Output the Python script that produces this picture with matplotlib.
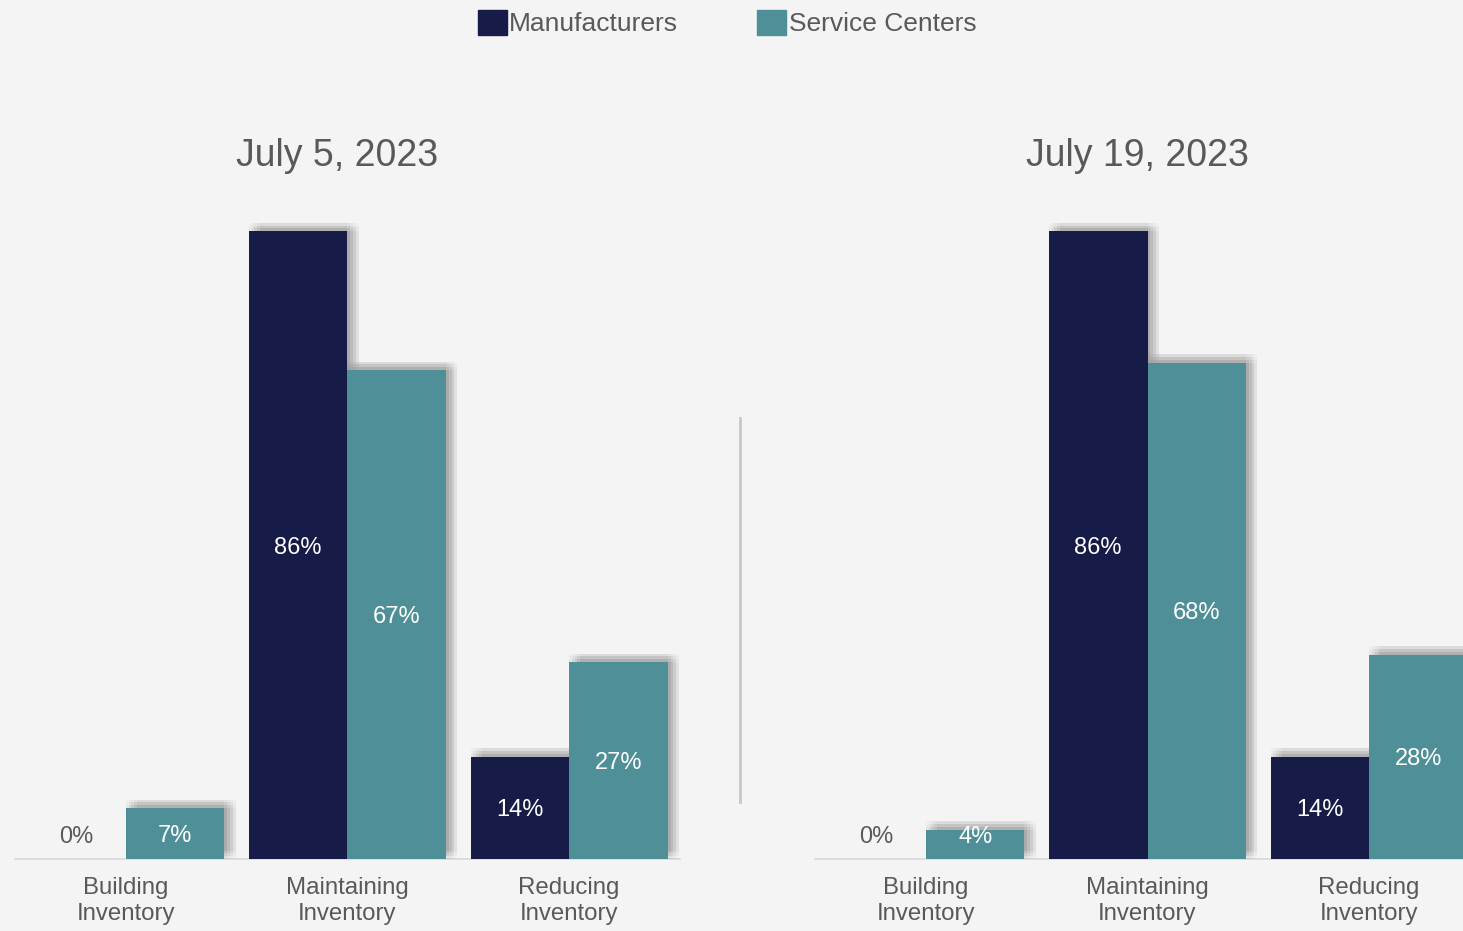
import matplotlib.pyplot as plt
import matplotlib.patheffects as pe
from matplotlib.patches import Patch
from matplotlib.lines import Line2D
import numpy as np

plt.rcParams['font.family'] = ['Liberation Sans', 'DejaVu Sans']

categories = ['Building\nInventory', 'Maintaining\nInventory', 'Reducing\nInventory']
titles = ['July 5, 2023', 'July 19, 2023']
manufacturers = [[0, 86, 14], [0, 86, 14]]
service_centers = [[7, 67, 27], [4, 68, 28]]

navy = '#161b47'
teal = '#4f8f98'
bg = '#f4f4f4'
gray = '#595959'

fig = plt.figure(figsize=(14.63, 9.31), dpi=100, facecolor=bg)

# soft shadow, up and to the right
shadow = []
for dx in range(0, 9, 2):
    for dy in range(0, 8, 2):
        shadow.append(pe.SimplePatchShadow(offset=(dx, dy), shadow_rgbFace='black', alpha=0.018))
shadow.append(pe.Normal())

W, H = 1463, 931
axes_px = [(15, 129, 665, 730), (815, 129, 665, 730)]

for i in range(2):
    x0, y0, w, h = axes_px[i]
    ax = fig.add_axes([x0 / W, (H - y0 - h) / H, w / W, h / H])
    ax.set_facecolor('none')
    x = np.arange(len(categories))
    bw = 0.445
    b1 = ax.bar(x - bw / 2, manufacturers[i], bw, color=navy, zorder=3)
    b2 = ax.bar(x + bw / 2, service_centers[i], bw, color=teal, zorder=3)
    for bars in (b1, b2):
        for b in bars:
            b.set_path_effects(shadow)
    for bars, vals in ((b1, manufacturers[i]), (b2, service_centers[i])):
        for b, v in zip(bars, vals):
            ypos = max(v / 2, 3.3)
            col = gray if v == 0 else 'white'
            ax.text(b.get_x() + b.get_width() / 2, ypos, f'{v}%', ha='center',
                    va='center_baseline', fontsize=17, color=col, zorder=5)
    ax.set_xlim(-0.5, 2.5)
    ax.set_ylim(0, 100)
    ax.set_yticks([])
    ax.set_xticks(x)
    ax.set_xticklabels(categories, fontsize=17.3, color=gray, linespacing=1.25)
    ax.tick_params(axis='x', length=0, pad=13)
    for s in ['top', 'right', 'left']:
        ax.spines[s].set_visible(False)
    ax.spines['bottom'].set_color('#d9d9d9')
    ax.spines['bottom'].set_linewidth(1.2)
    ax.text(0.485, (859 - 152) / 730, titles[i], transform=ax.transAxes, ha='center',
            va='center_baseline', fontsize=27, color=gray)

# divider between panels
fig.add_artist(Line2D([740 / W, 740 / W], [1 - 418 / H, 1 - 802 / H], color='#c8c8c8', lw=2))

handles = [Patch(facecolor=navy, edgecolor=navy), Patch(facecolor=teal, edgecolor=teal)]
fig.legend(handles, ['Manufacturers', 'Service Centers'], loc='upper center',
           bbox_to_anchor=(0.497, 1.015), ncol=2, frameon=False, fontsize=19,
           handlelength=1.1, handleheight=1.1, handletextpad=0.1, columnspacing=3.0,
           labelcolor=gray)

fig.savefig('out.png', dpi=100, facecolor=bg)
